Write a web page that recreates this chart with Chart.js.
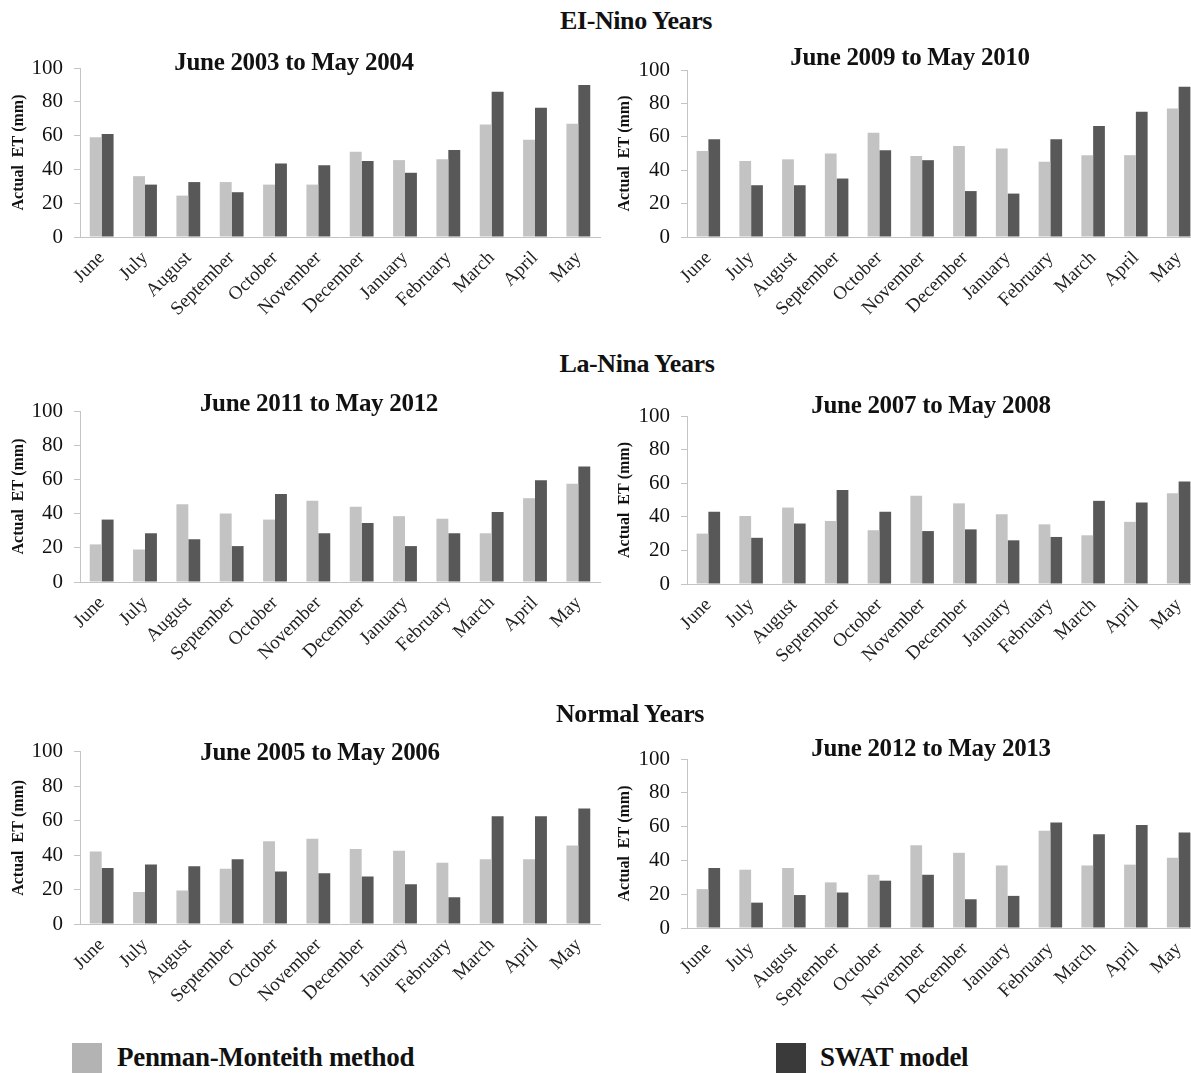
<!DOCTYPE html>
<html>
<head>
<meta charset="utf-8">
<script src="https://cdn.jsdelivr.net/npm/chart.js@4.4.1/dist/chart.umd.min.js"></script>
<style>
  html, body { margin: 0; padding: 0; width: 1191px; height: 1073px; overflow: hidden; background: #fff; }
  body { position: relative; font-family: "Liberation Serif", "Times New Roman", serif; color: #111; }
  .cv { position: absolute; }
  .lbl { position: absolute; white-space: nowrap; font-weight: bold; transform: translate(-50%, -50%); z-index: 2; }
  .group { font-size: 26px; letter-spacing: -0.4px; }
  .ptitle { font-size: 25px; letter-spacing: -0.3px; }
  .swatch { position: absolute; width: 30px; height: 30px; }
  .keytxt { position: absolute; font-size: 27px; font-weight: bold; letter-spacing: -0.3px; transform: translateY(-50%); white-space: nowrap; }
</style>
</head>
<body>

<div class="lbl group" style="left:636px; top:21px;">EI-Nino Years</div>
<div class="lbl group" style="left:637px; top:364px;">La-Nina Years</div>
<div class="lbl group" style="left:630px; top:714px;">Normal Years</div>

<div class="swatch" style="left:72px; top:1043px; background:#b3b3b3;"></div>
<div class="keytxt" style="left:117px; top:1057px;">Penman-Monteith method</div>
<div class="swatch" style="left:776px; top:1043px; background:#3a3a3a;"></div>
<div class="keytxt" style="left:820px; top:1057px;">SWAT model</div>

<script>
// Month categories (hydrological year, June to May)
const months = ['June', 'July', 'August', 'September', 'October', 'November',
                'December', 'January', 'February', 'March', 'April', 'May'];

// Actual ET (mm) - El-Nino years
const pm2003 = [59, 36, 24.5, 32.5, 31, 31, 50.5, 45.5, 46, 66.5, 57.5, 67];
const swat2003 = [61, 31, 32.5, 26.5, 43.5, 42.5, 45, 38, 51.5, 86, 76.5, 90];
const pm2009 = [51.5, 45.5, 46.5, 50, 62.5, 48.5, 54.5, 53, 45, 49, 49, 77];
const swat2009 = [58.5, 31, 31, 35, 52, 46, 27.5, 26, 58.5, 66.5, 75, 90];

// Actual ET (mm) - La-Nina years
const pm2011 = [22, 19, 45.5, 40, 36.5, 47.5, 44, 38.5, 37, 28.5, 49, 57.5];
const swat2011 = [36.5, 28.5, 25, 21, 51.5, 28.5, 34.5, 21, 28.5, 41, 59.5, 67.5];
const pm2007 = [30, 40.5, 45.5, 37.5, 32, 52.5, 48, 41.5, 35.5, 29, 37, 54];
const swat2007 = [43, 27.5, 36, 56, 43, 31.5, 32.5, 26, 28, 49.5, 48.5, 61];

// Actual ET (mm) - Normal years
const pm2005 = [42, 18.5, 19.5, 32, 48, 49.5, 43.5, 42.5, 35.5, 37.5, 37.5, 45.5];
const swat2005 = [32.5, 34.5, 33.5, 37.5, 30.5, 29.5, 27.5, 23, 15.5, 62.5, 62.5, 67];
const pm2012 = [23, 34.5, 35.5, 27, 31.5, 49, 44.5, 37, 57.5, 37, 37.5, 41.5];
const swat2012 = [35.5, 15, 19.5, 21, 28, 31.5, 17, 19, 62.5, 55.5, 61, 56.5];

// Y axis ticks
const yTicks = [0, 20, 40, 60, 80, 100];

const seriesNames = ['Penman-Monteith method', 'SWAT model'];

// Panel layout: canvas box and the plot area inside it (page pixels)
const panels = [
  { title: 'June 2003 to May 2004', pm: pm2003, swat: swat2003,
    box: { left: 0, top: 40, width: 606, height: 280 }, area: { left: 80, top: 68, right: 600, bottom: 237 }, tx: 294, ty: 62 },
  { title: 'June 2009 to May 2010', pm: pm2009, swat: swat2009,
    box: { left: 606, top: 40, width: 600, height: 280 }, area: { left: 687, top: 70, right: 1200, bottom: 237 }, tx: 910, ty: 57 },
  { title: 'June 2011 to May 2012', pm: pm2011, swat: swat2011,
    box: { left: 0, top: 385, width: 606, height: 280 }, area: { left: 80, top: 411, right: 600, bottom: 582 }, tx: 319, ty: 403 },
  { title: 'June 2007 to May 2008', pm: pm2007, swat: swat2007,
    box: { left: 606, top: 385, width: 600, height: 280 }, area: { left: 687, top: 416, right: 1200, bottom: 584 }, tx: 931, ty: 405 },
  { title: 'June 2005 to May 2006', pm: pm2005, swat: swat2005,
    box: { left: 0, top: 728, width: 606, height: 280 }, area: { left: 80, top: 747, right: 600, bottom: 924 }, tx: 320, ty: 752 },
  { title: 'June 2012 to May 2013', pm: pm2012, swat: swat2012,
    box: { left: 606, top: 728, width: 600, height: 280 }, area: { left: 687, top: 759, right: 1200, bottom: 928 }, tx: 931, ty: 748 }
];

const serif = '"Liberation Serif", "Times New Roman", serif';
const axisGrey = '#c4c4c4';

panels.forEach((p) => {
  const cv = document.createElement('canvas');
  cv.className = 'cv';
  cv.width = p.box.width;
  cv.height = p.box.height;
  cv.style.left = p.box.left + 'px';
  cv.style.top = p.box.top + 'px';
  cv.style.width = p.box.width + 'px';
  cv.style.height = p.box.height + 'px';
  document.body.appendChild(cv);

  const t = document.createElement('div');
  t.className = 'lbl ptitle';
  t.style.left = p.tx + 'px';
  t.style.top = p.ty + 'px';
  t.textContent = p.title;
  document.body.appendChild(t);

  const yWidth = p.area.left - p.box.left;
  const xHeight = p.box.top + p.box.height - p.area.bottom;

  new Chart(cv, {
    type: 'bar',
    data: {
      labels: months,
      datasets: [
        { label: seriesNames[0], data: p.pm, backgroundColor: '#c3c3c3' },
        { label: seriesNames[1], data: p.swat, backgroundColor: '#585858' }
      ]
    },
    options: {
      responsive: false,
      animation: false,
      devicePixelRatio: 1,
      categoryPercentage: 0.55,
      barPercentage: 1.0,
      layout: {
        padding: {
          top: p.area.top - p.box.top,
          right: p.box.left + p.box.width - p.area.right,
          left: 0,
          bottom: 0
        }
      },
      plugins: {
        legend: { display: false },
        tooltip: { enabled: false },
        title: { display: false }
      },
      scales: {
        x: {
          grid: { display: false },
          border: { display: true, color: axisGrey, width: 1 },
          ticks: {
            autoSkip: false,
            maxRotation: 45,
            minRotation: 45,
            padding: 2,
            color: '#222',
            font: { family: serif, size: 19 }
          },
          afterFit: (scale) => { scale.height = xHeight; }
        },
        y: {
          min: 0,
          max: 100,
          afterBuildTicks: (scale) => { scale.ticks = yTicks.map(v => ({ value: v })); },
          grid: { display: true, drawOnChartArea: false, drawTicks: true, tickLength: 6, color: axisGrey },
          border: { display: true, color: axisGrey, width: 1 },
          ticks: {
            padding: 11,
            color: '#111',
            font: { family: serif, size: 21 }
          },
          title: {
            display: true,
            text: 'Actual  ET (mm)',
            color: '#111',
            font: { family: serif, size: 16, weight: 'bold' },
            padding: { top: 9, bottom: 0 }
          },
          afterFit: (scale) => { scale.width = yWidth; }
        }
      }
    }
  });
});
</script>
</body>
</html>
